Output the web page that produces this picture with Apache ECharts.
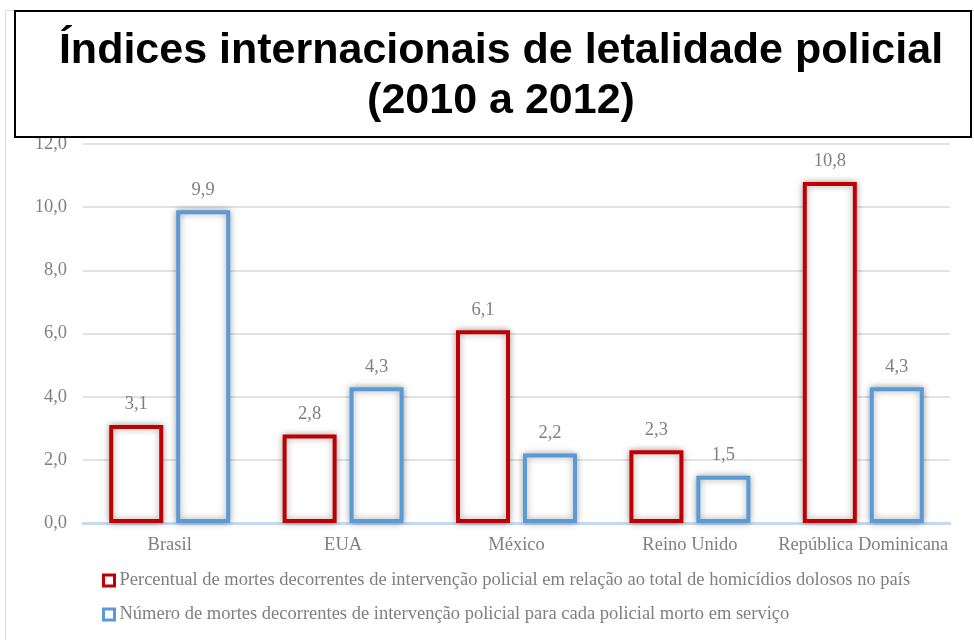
<!DOCTYPE html>
<html>
<head>
<meta charset="utf-8">
<script src="https://cdn.jsdelivr.net/npm/echarts@6/dist/echarts.min.js"></script>
<style>
  html, body { margin: 0; padding: 0; background: #fff; }
  #chart { width: 974px; height: 640px; }
</style>
</head>
<body>
<div id="chart"></div>
<script>
const categories = ['Brasil', 'EUA', 'México', 'Reino Unido', 'República Dominicana']
const percentual = [3.1, 2.8, 6.1, 2.3, 10.8]
const mortesPorPolicial = [9.9, 4.3, 2.2, 1.5, 4.3]
const seriesNames = [
  'Percentual de mortes decorrentes de intervenção policial em relação ao total de homicídios dolosos no país',
  'Número de mortes decorrentes de intervenção policial para cada policial morto em serviço'
]
const titleLines = ['Índices internacionais de letalidade policial', '(2010 a 2012)']

const serif = '"Liberation Serif", "Times New Roman", serif'
const grey = '#7f7f7f'
const fmt = v => v.toFixed(1).replace('.', ',')

const chart = echarts.init(document.getElementById('chart'))

const barStyle = color => ({
  color: '#fff',
  borderColor: color,
  borderWidth: 4,
  shadowBlur: 7,
  shadowColor: 'rgba(0,0,0,0.35)'
})

const barLabel = {
  show: true,
  position: 'top',
  distance: 11,
  color: grey,
  fontFamily: serif,
  fontSize: 18.5,
  formatter: p => fmt(p.value)
}

chart.setOption({
  animation: false,
  grid: { left: 83, right: 24, top: 144, bottom: 117 },
  legend: {
    orient: 'vertical',
    left: 97,
    top: 566,
    itemWidth: 11,
    itemHeight: 11,
    itemGap: 15,
    icon: 'rect',
    itemStyle: { borderWidth: 3, shadowBlur: 0 },
    textStyle: { color: grey, fontFamily: serif, fontSize: 18.5 },
    data: seriesNames
  },
  xAxis: {
    type: 'category',
    data: categories,
    axisLine: { lineStyle: { color: '#c5daf0', width: 3 } },
    axisTick: { show: false },
    axisLabel: { color: grey, fontFamily: serif, fontSize: 18.5, margin: 13, interval: 0 }
  },
  yAxis: {
    type: 'value',
    min: 0,
    max: 12,
    interval: 2,
    axisLine: { show: false },
    axisTick: { show: false },
    axisLabel: { color: grey, fontFamily: serif, fontSize: 18.5, margin: 16, formatter: fmt },
    splitLine: { lineStyle: { color: '#d9d9d9', width: 1.5 } }
  },
  series: [
    {
      name: seriesNames[0],
      type: 'bar',
      data: percentual,
      barWidth: 54,
      barGap: '24%',
      itemStyle: barStyle('#c00000'),
      label: barLabel
    },
    {
      name: seriesNames[1],
      type: 'bar',
      data: mortesPorPolicial,
      barWidth: 54,
      itemStyle: barStyle('#5b9bd5'),
      label: barLabel
    }
  ],
  graphic: [
    {
      type: 'rect',
      z: 0,
      silent: true,
      shape: { x: 5.5, y: 10.5, width: 1000, height: 700 },
      style: { fill: 'none', stroke: '#d9d9d9', lineWidth: 1 }
    },
    {
      type: 'rect',
      z: 100,
      silent: true,
      shape: { x: 15, y: 11, width: 956, height: 126 },
      style: { fill: '#fff', stroke: '#000', lineWidth: 2 }
    },
    {
      type: 'text',
      z: 101,
      silent: true,
      x: 501,
      y: 51,
      style: {
        text: titleLines[0],
        fill: '#000',
        font: 'bold 43px "Liberation Sans", Arial, sans-serif',
        align: 'center',
        verticalAlign: 'middle'
      }
    },
    {
      type: 'text',
      z: 101,
      silent: true,
      x: 501,
      y: 101,
      style: {
        text: titleLines[1],
        fill: '#000',
        font: 'bold 43px "Liberation Sans", Arial, sans-serif',
        align: 'center',
        verticalAlign: 'middle'
      }
    }
  ]
})
</script>
</body>
</html>
